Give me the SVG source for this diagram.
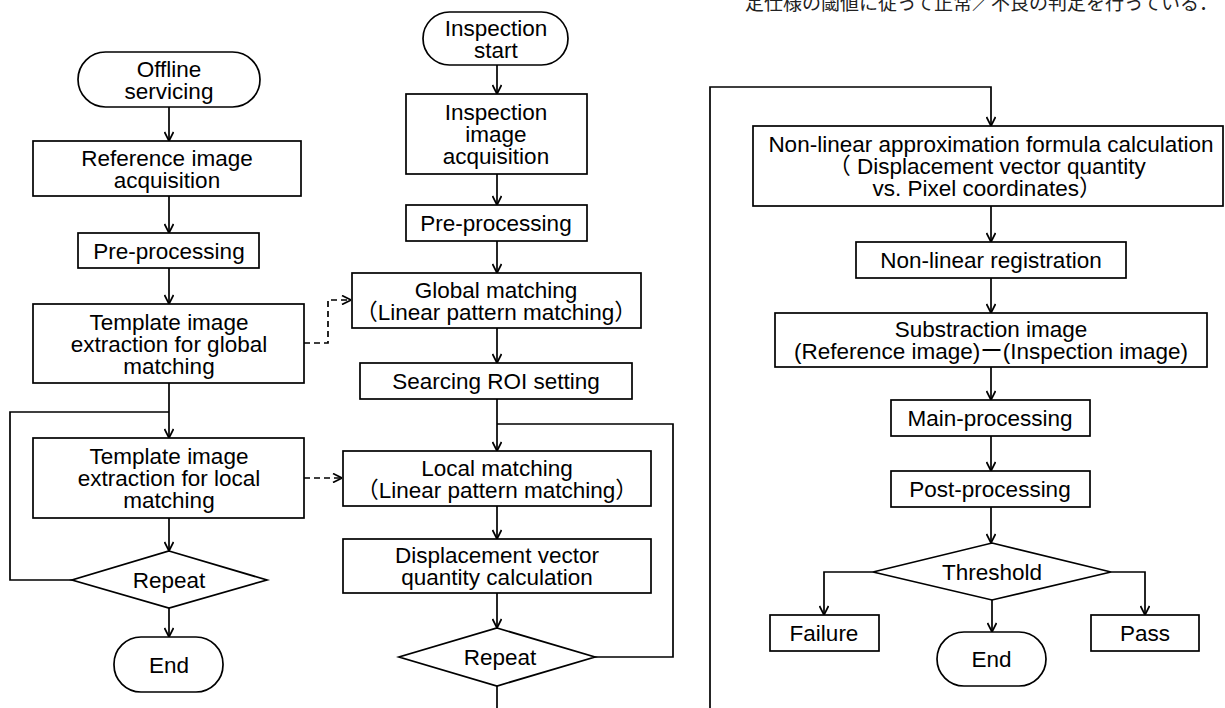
<svg xmlns="http://www.w3.org/2000/svg" width="1225" height="708" viewBox="0 0 1225 708">
<defs>
<style>
.n rect, .n path { fill:#fff; stroke:#000; stroke-width:1.7; }
text { font-family:"Liberation Sans", Arial, "Noto Sans CJK JP", sans-serif; font-size:22.5px; text-anchor:middle; fill:#000; }
.c path { fill:none; stroke:#000; stroke-width:1.7; }
.c .d { stroke-dasharray:6 4; }
.cap { font-family:"Noto Sans CJK JP", serif; font-size:19px; text-anchor:start; fill:#222; }
</style>
<marker id="a" viewBox="0 0 10 10" refX="10" refY="5" markerWidth="10" markerHeight="10" markerUnits="userSpaceOnUse" orient="auto">
<path d="M1,0.5 L10,5 L1,9.5" fill="none" stroke="#000" stroke-width="1.7"/>
</marker>
</defs>
<rect width="1225" height="708" fill="#fff"/>
<text class="cap" x="745" y="10">定仕様の閾値に従って正常／不良の判定を行っている．</text>

<g class="c">
<path d="M169,107 V141" marker-end="url(#a)"/>
<path d="M169,196 V233" marker-end="url(#a)"/>
<path d="M169,268 V304" marker-end="url(#a)"/>
<path d="M169,383 V438" marker-end="url(#a)"/>
<path d="M169,518 V551" marker-end="url(#a)"/>
<path d="M169,608 V637" marker-end="url(#a)"/>
<path d="M72,580 H10 V412 H169"/>
<path class="d" d="M304,343 H328 V300 H351" marker-end="url(#a)"/>
<path class="d" d="M304,478 H342" marker-end="url(#a)"/>
<path d="M497,65 V94" marker-end="url(#a)"/>
<path d="M497,174 V205" marker-end="url(#a)"/>
<path d="M497,241 V273" marker-end="url(#a)"/>
<path d="M497,328 V363" marker-end="url(#a)"/>
<path d="M497,399 V451" marker-end="url(#a)"/>
<path d="M497,506 V539" marker-end="url(#a)"/>
<path d="M497,593 V628" marker-end="url(#a)"/>
<path d="M497,686 V708"/>
<path d="M595,657 H673 V424 H497"/>
<path d="M710,708 V87 H991 V126" marker-end="url(#a)"/>
<path d="M991,206 V242" marker-end="url(#a)"/>
<path d="M991,278 V313" marker-end="url(#a)"/>
<path d="M991,367 V400" marker-end="url(#a)"/>
<path d="M991,436 V471" marker-end="url(#a)"/>
<path d="M991,507 V543" marker-end="url(#a)"/>
<path d="M873,572 H824 V615" marker-end="url(#a)"/>
<path d="M1111,572 H1145 V615" marker-end="url(#a)"/>
<path d="M992,600 V632" marker-end="url(#a)"/>
</g>

<g id="offline" class="n"><rect x="78" y="52" width="182" height="55" rx="27.5"/><text x="169" y="76.5">Offline<tspan x="169" dy="22">servicing</tspan></text></g>
<g id="refacq" class="n"><rect x="33" y="141" width="268" height="55"/><text x="167" y="165.5">Reference image<tspan x="167" dy="22">acquisition</tspan></text></g>
<g id="pre1" class="n"><rect x="78" y="233" width="181" height="35"/><text x="169" y="258.5">Pre-processing</text></g>
<g id="tglobal" class="n"><rect x="33" y="304" width="271" height="79"/><text x="169" y="329.5">Template image<tspan x="169" dy="22">extraction for global</tspan><tspan x="169" dy="22">matching</tspan></text></g>
<g id="tlocal" class="n"><rect x="33" y="438" width="271" height="80"/><text x="169" y="464">Template image<tspan x="169" dy="22">extraction for local</tspan><tspan x="169" dy="22">matching</tspan></text></g>
<g id="repeat1" class="n"><path d="M169,551 L267,580 L169,608 L72,580 Z"/><text x="169" y="588">Repeat</text></g>
<g id="end1" class="n"><rect x="114" y="637" width="109" height="55" rx="27"/><text x="169" y="672.5">End</text></g>

<g id="insstart" class="n"><rect x="423" y="12" width="145" height="53" rx="26.5"/><text x="496" y="35.5">Inspection<tspan x="496" dy="22">start</tspan></text></g>
<g id="insacq" class="n"><rect x="406" y="94" width="181" height="80"/><text x="496" y="120">Inspection<tspan x="496" dy="22">image</tspan><tspan x="496" dy="22">acquisition</tspan></text></g>
<g id="pre2" class="n"><rect x="406" y="205" width="181" height="36"/><text x="496" y="231">Pre-processing</text></g>
<g id="global" class="n"><rect x="352" y="273" width="289" height="55"/><text x="496" y="297.5">Global matching<tspan x="496" dy="22">（Linear pattern matching）</tspan></text></g>
<g id="roi" class="n"><rect x="360" y="363" width="272" height="36"/><text x="496" y="389">Searcing ROI setting</text></g>
<g id="local" class="n"><rect x="343" y="451" width="308" height="55"/><text x="497" y="475.5">Local matching<tspan x="497" dy="22">（Linear pattern matching）</tspan></text></g>
<g id="disp" class="n"><rect x="343" y="539" width="308" height="54"/><text x="497" y="563">Displacement vector<tspan x="497" dy="22">quantity calculation</tspan></text></g>
<g id="repeat2" class="n"><path d="M497,628 L595,657 L497,686 L399,657 Z"/><text x="500" y="665">Repeat</text></g>

<g id="nlapprox" class="n"><rect x="753" y="126" width="470" height="80"/><text x="991" y="152">Non-linear approximation formula calculation<tspan x="987" dy="22">（ Displacement vector quantity</tspan><tspan x="987" dy="22">vs. Pixel coordinates）</tspan></text></g>
<g id="nlreg" class="n"><rect x="856" y="242" width="270" height="36"/><text x="991" y="268">Non-linear registration</text></g>
<g id="subs" class="n"><rect x="775" y="313" width="432" height="54"/><text x="991" y="337">Substraction image<tspan x="991" dy="22">(Reference image)ー(Inspection image)</tspan></text></g>
<g id="main" class="n"><rect x="891" y="400" width="199" height="36"/><text x="990" y="426">Main-processing</text></g>
<g id="post" class="n"><rect x="891" y="471" width="199" height="36"/><text x="990" y="497">Post-processing</text></g>
<g id="threshold" class="n"><path d="M992,543 L1111,572 L992,600 L873,572 Z"/><text x="992" y="580">Threshold</text></g>
<g id="failure" class="n"><rect x="770" y="615" width="109" height="36"/><text x="824" y="641">Failure</text></g>
<g id="end2" class="n"><rect x="937" y="632" width="109" height="54" rx="27"/><text x="991.5" y="667">End</text></g>
<g id="pass" class="n"><rect x="1091" y="615" width="108" height="36"/><text x="1145" y="641">Pass</text></g>
</svg>
